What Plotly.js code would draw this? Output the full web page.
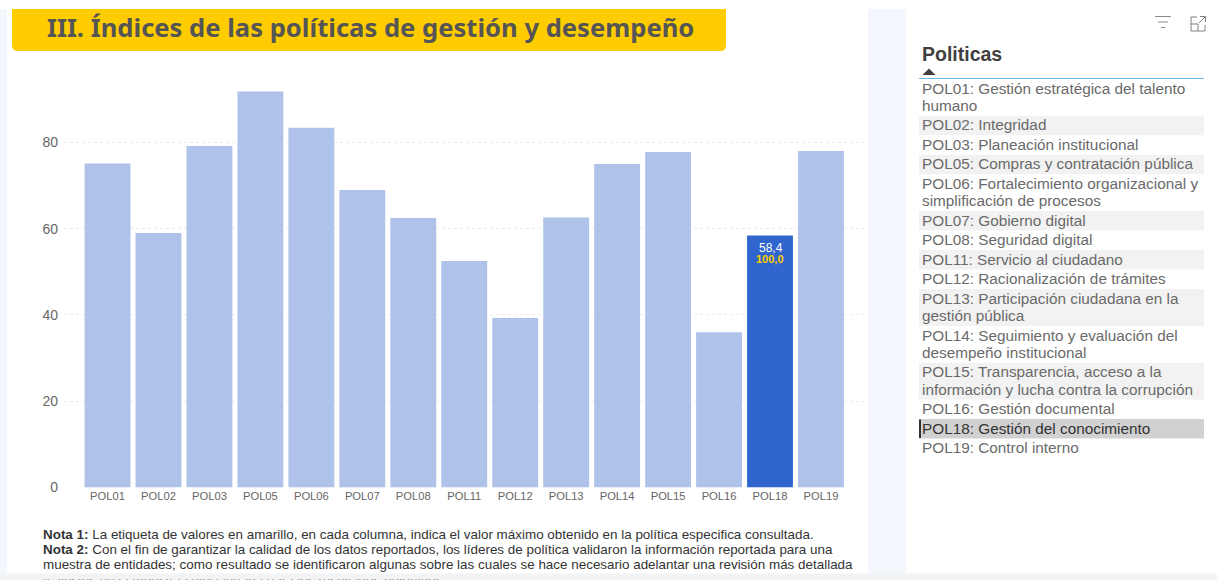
<!DOCTYPE html>
<html><head><meta charset="utf-8">
<script src="https://cdn.plot.ly/plotly-3.0.1.min.js"></script>
<style>html,body{margin:0;padding:0;background:#fff;overflow:hidden}#c{width:1217px;height:580px}</style>
</head><body><div id="c"></div>
<script>
const politicas = ["POL01","POL02","POL03","POL05","POL06","POL07","POL08","POL11","POL12","POL13","POL14","POL15","POL16","POL18","POL19"];
const indices = [75.1,59,79.2,91.8,83.4,69,62.5,52.5,39.3,62.6,75,77.8,36,58.4,78];
const seleccion = "POL18";
const etiquetaValor = "58,4";
const etiquetaMaximo = "100,0";
const listaLineas = [
 ["POL01: Gestión estratégica del talento","humano"],
 ["POL02: Integridad"],
 ["POL03: Planeación institucional"],
 ["POL05: Compras y contratación pública"],
 ["POL06: Fortalecimiento organizacional y","simplificación de procesos"],
 ["POL07: Gobierno digital"],
 ["POL08: Seguridad digital"],
 ["POL11: Servicio al ciudadano"],
 ["POL12: Racionalización de trámites"],
 ["POL13: Participación ciudadana en la","gestión pública"],
 ["POL14: Seguimiento y evaluación del","desempeño institucional"],
 ["POL15: Transparencia, acceso a la","información y lucha contra la corrupción"],
 ["POL16: Gestión documental"],
 ["POL18: Gestión del conocimiento"],
 ["POL19: Control interno"]
];
const notas = [
 "<b>Nota 1:</b> La etiqueta de valores en amarillo, en cada columna, indica el valor máximo obtenido en la política especifica consultada.",
 "<b>Nota 2:</b> Con el fin de garantizar la calidad de los datos reportados, los líderes de política validaron la información reportada para una",
 "muestra de entidades; como resultado se identificaron algunas sobre las cuales se hace necesario adelantar una revisión más detallada",
 "y ajustes en la muestra seleccionada para los resultados obtenidos."
];
const W=1217,H=580;
const px=x=>x/W, py=y=>1-y/H;
const shapes=[], ann=[];
function rect(x0,y0,x1,y1,c,layer){shapes.push({type:'rect',xref:'paper',yref:'paper',x0:px(x0),x1:px(x1),y0:py(y1),y1:py(y0),fillcolor:c,line:{width:0},layer:layer||'below'});}
function line(x0,y0,x1,y1,c,w){shapes.push({type:'line',xref:'paper',yref:'paper',x0:px(x0),x1:px(x1),y0:py(y0),y1:py(y1),line:{color:c,width:w||1},layer:'above'});}
function text(x,y,t,size,c,anchor,fam){ann.push({xref:'paper',yref:'paper',x:px(x),y:py(y),text:t,showarrow:false,xanchor:anchor||'left',yanchor:'middle',font:{size:size,color:c,family:fam||'"Liberation Sans",Arial,sans-serif'},align:'left',borderpad:0,borderwidth:0});}
// page panels
rect(0,9,7,575,'#f3f6fd'); rect(868,9,906,575,'#f3f6fd');
rect(0,575,W,580,'#f2f3f5');
// title banner
shapes.push({type:'path',xref:'paper',yref:'paper',layer:'below',fillcolor:'#ffcc00',line:{width:0},
 path:`M${px(12)},${py(9)} L${px(726)},${py(9)} L${px(726)},${py(45)} Q${px(726)},${py(51)} ${px(720)},${py(51)} L${px(18)},${py(51)} Q${px(12)},${py(51)} ${px(12)},${py(45)} Z`});
text(370.5,28,"<b>III. Índices de las políticas de gestión y desempeño</b>",25.6,'#555555','center','"Noto Sans",sans-serif');
// notes
notas.forEach((t,i)=>text(42.5,534+i*15,t,13.43,'#333333'));
// list panel
text(922,54,"<b>Politicas</b>",19.5,'#404040');
shapes.push({type:'path',xref:'paper',yref:'paper',layer:'above',fillcolor:'#404040',line:{width:0},
 path:`M${px(922.5)},${py(75)} L${px(935.5)},${py(75)} L${px(929)},${py(68.5)} Z`});
line(919,78.5,1204,78.5,'#6cb6ea',1);
let yy=79;
listaLineas.forEach((ls,i)=>{
  const h=19.5+(ls.length-1)*17.3;
  const sel=ls[0].startsWith(seleccion);
  if(sel) rect(919,yy,1204,yy+h,'#d1d1d1');
  else if(i%2===1) rect(919,yy,1204,yy+h,'#f2f2f2');
  ls.forEach((t,j)=>text(922,yy+9.1+j*17.3,t,15.33,sel?'#333333':'#6a6a6a'));
  if(sel) line(920,yy+0.5,920,yy+h-0.5,'#333333',2);
  yy+=h;
});
// icons
line(1155,16.5,1171,16.5,'#8a8a8a',1); line(1158,22,1168,22,'#8a8a8a',1); line(1161,27.5,1165,27.5,'#8a8a8a',1);
shapes.push({type:'path',xref:'paper',yref:'paper',layer:'above',line:{color:'#808080',width:1},
 path:`M${px(1197)},${py(17)} L${px(1191)},${py(17)} L${px(1191)},${py(31)} L${px(1205)},${py(31)} L${px(1205)},${py(25)} M${px(1191)},${py(24)} L${px(1198)},${py(24)} L${px(1198)},${py(31)} M${px(1199)},${py(23)} L${px(1205.5)},${py(16.5)} M${px(1200)},${py(16.5)} L${px(1205.5)},${py(16.5)} L${px(1205.5)},${py(22)}`});
// data labels
const iSel=politicas.indexOf(seleccion);
ann.push({xref:'x',yref:'y',x:iSel,y:indices[iSel],yanchor:'top',yshift:-3,xshift:0.5,showarrow:false,text:etiquetaValor,font:{size:12,color:'#ffffff',family:'"Liberation Sans",sans-serif'}});
ann.push({xref:'x',yref:'y',x:iSel,y:indices[iSel],yanchor:'top',yshift:-15,showarrow:false,text:'<b>'+etiquetaMaximo+'</b>',font:{size:11,color:'#ffcc00',family:'"Liberation Sans",sans-serif'}});
// strip covering clipped note line
ann.push({xref:'paper',yref:'paper',x:0,y:0,xanchor:'left',yanchor:'bottom',text:' ',width:W,height:5,bgcolor:'#f2f3f5',showarrow:false,borderpad:0,font:{size:1}});

const trace={type:'bar',x:politicas,y:indices,width:0.9,
 marker:{color:politicas.map(p=>p===seleccion?'#3165ce':'#aec2ea')},hoverinfo:'x+y'};
const layout={width:W,height:H,margin:{l:0,r:0,t:0,b:0},paper_bgcolor:'#ffffff',plot_bgcolor:'rgba(0,0,0,0)',showlegend:false,
 xaxis:{domain:[px(64),px(865)],type:'category',range:[-0.854,14.864],showgrid:false,zeroline:false,showline:false,ticks:'',
  tickfont:{size:11.2,color:'#666666',family:'"Liberation Sans",sans-serif'},anchor:'y',automargin:false},
 yaxis:{domain:[py(487.5),py(70)],range:[0,96.8],tickvals:[0,20,40,60,80],showgrid:true,griddash:'dot',gridcolor:'#ececec',gridwidth:1,zeroline:false,showline:false,ticks:'',ticklabelstandoff:5,
  tickfont:{size:14,color:'#666666',family:'"Liberation Sans",sans-serif'},automargin:false},
 shapes:shapes,annotations:ann};
Plotly.newPlot('c',[trace],layout,{displayModeBar:false,responsive:false});
</script></body></html>
